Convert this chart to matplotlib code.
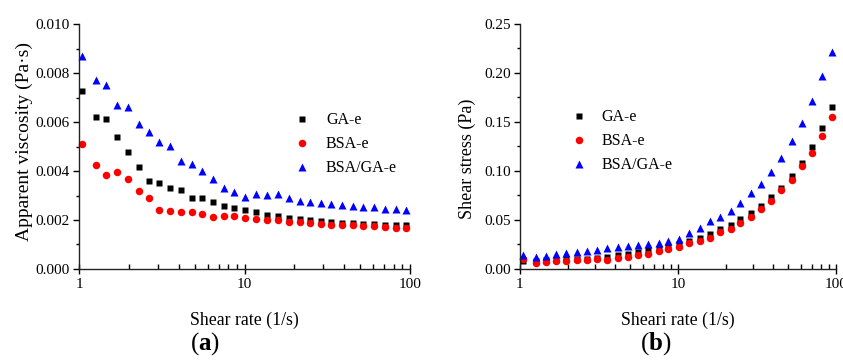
import matplotlib
matplotlib.use("Agg")
import matplotlib.pyplot as plt
from matplotlib.ticker import MultipleLocator, FixedLocator, NullFormatter

plt.rcParams["font.family"] = ["Liberation Serif", "DejaVu Serif"]
plt.rcParams["mathtext.fontset"] = "custom"
plt.rcParams["mathtext.rm"] = "Liberation Serif"
plt.rcParams["mathtext.bf"] = "Liberation Serif:bold"

# shear rate (1/s), same for every series
rate = [1.04, 1.26, 1.46, 1.69, 1.97, 2.29, 2.65, 3.06, 3.57, 4.16, 4.81,
        5.56, 6.48, 7.53, 8.69, 10.1, 11.8, 13.7, 15.9, 18.5, 21.5, 24.8,
        28.8, 33.4, 38.8, 45.1, 52.3, 60.7, 70.5, 81.8, 95.0]

# (a) apparent viscosity (Pa·s)
visc_ga = [0.00729, 0.00620, 0.00611, 0.00539, 0.00478, 0.00418, 0.00359,
           0.00350, 0.00332, 0.00321, 0.00290, 0.00288, 0.00273, 0.00257,
           0.00248, 0.00241, 0.00233, 0.00222, 0.00218, 0.00210, 0.00204,
           0.00200, 0.00195, 0.00190, 0.00189, 0.00186, 0.00185, 0.00182,
           0.00181, 0.00180, 0.00180]
visc_bsa = [0.00510, 0.00426, 0.00386, 0.00397, 0.00366, 0.00320, 0.00291,
            0.00239, 0.00235, 0.00233, 0.00233, 0.00226, 0.00211, 0.00218,
            0.00215, 0.00210, 0.00204, 0.00200, 0.00199, 0.00190, 0.00190,
            0.00189, 0.00182, 0.00180, 0.00178, 0.00178, 0.00174, 0.00174,
            0.00170, 0.00167, 0.00166]
visc_mix = [0.00871, 0.00773, 0.00752, 0.00671, 0.00661, 0.00592, 0.00558,
            0.00520, 0.00501, 0.00441, 0.00427, 0.00399, 0.00366, 0.00331,
            0.00313, 0.00295, 0.00306, 0.00303, 0.00305, 0.00291, 0.00279,
            0.00273, 0.00271, 0.00264, 0.00261, 0.00256, 0.00253, 0.00252,
            0.00246, 0.00244, 0.00239]

# (b) shear stress (Pa)
stress_ga = [0.0076, 0.0078, 0.0089, 0.0091, 0.0094, 0.0096, 0.0095, 0.0107,
             0.0123, 0.0140, 0.0150, 0.0174, 0.0191, 0.0204, 0.0225, 0.0255,
             0.0286, 0.0310, 0.0351, 0.0402, 0.0446, 0.0507, 0.0572, 0.0644,
             0.0729, 0.0828, 0.0947, 0.1083, 0.1243, 0.1437, 0.1650]
stress_bsa = [0.0102, 0.0061, 0.0068, 0.0078, 0.0082, 0.0085, 0.0089, 0.0102,
              0.0092, 0.0109, 0.0123, 0.0140, 0.0153, 0.0180, 0.0201, 0.0221,
              0.0266, 0.0286, 0.0310, 0.0371, 0.0402, 0.0470, 0.0531, 0.0606,
              0.0695, 0.0807, 0.0906, 0.1052, 0.1185, 0.1356, 0.1553]
stress_mix = [0.0140, 0.0119, 0.0129, 0.0146, 0.0157, 0.0167, 0.0184, 0.0191,
              0.0208, 0.0221, 0.0232, 0.0242, 0.0252, 0.0266, 0.0279, 0.0300,
              0.0361, 0.0412, 0.0484, 0.0531, 0.0589, 0.0674, 0.0773, 0.0865,
              0.0990, 0.1130, 0.1300, 0.1490, 0.1710, 0.1965, 0.2217]

labels = ["GA-e", "BSA-e", "BSA/GA-e"]
styles = [dict(marker="s", color="black", ms=5.0),
          dict(marker="o", color="#ff0000", ms=5.4),
          dict(marker="^", color="#0000ff", ms=6.2)]

fig = plt.figure(figsize=(8.43, 3.62), dpi=100)
ax1 = fig.add_axes([0.0937, 0.257, 0.3927, 0.676])
ax2 = fig.add_axes([0.6168, 0.258, 0.3749, 0.676])


def style_axis(ax):
    ax.set_xscale("log")
    ax.set_xlim(1, 100)
    for s in ("top", "right"):
        ax.spines[s].set_visible(False)
    for s in ("left", "bottom"):
        ax.spines[s].set_linewidth(1.0)
        ax.spines[s].set_color("#222222")
    ax.xaxis.set_major_locator(FixedLocator([1, 10, 100]))
    ax.set_xticklabels(["1", "10", "100"])
    ax.xaxis.set_minor_formatter(NullFormatter())
    ax.tick_params(axis="x", which="major", direction="inout", length=7,
                   width=1, labelsize=11, pad=3)
    ax.tick_params(axis="x", which="minor", direction="in", length=3.5, width=1)
    ax.tick_params(axis="y", which="major", direction="out", length=4.5,
                   width=1, labelsize=11, pad=2)
    ax.tick_params(axis="y", which="minor", direction="out", length=2.5, width=1)


for ys, lab, st in zip([visc_ga, visc_bsa, visc_mix], labels, styles):
    ax1.plot(rate, ys, ls="none", mec="none", label=lab, clip_on=False, **st)
for ys, lab, st in zip([stress_ga, stress_bsa, stress_mix], labels, styles):
    ax2.plot(rate, ys, ls="none", mec="none", label=lab, clip_on=False, **st)

style_axis(ax1)
ax1.set_ylim(0, 0.010)
ax1.yaxis.set_major_locator(MultipleLocator(0.002))
ax1.yaxis.set_minor_locator(MultipleLocator(0.001))
ax1.yaxis.set_major_formatter(plt.FuncFormatter(lambda v, p: f"{v:.3f}"))
ax1.set_ylabel("Apparent viscosity (Pa·s)", fontsize=14, va="center")
ax1.yaxis.set_label_coords(-0.166, 0.519)
ax1.set_xlabel("Shear rate (1/s)", fontsize=12.8, labelpad=15)
ax1.legend(loc="center left", bbox_to_anchor=(0.63, 0.51), frameon=False,
           fontsize=11.5, handlelength=1.0, handletextpad=1.0,
           labelspacing=0.5, borderaxespad=0)

style_axis(ax2)
ax2.set_ylim(0, 0.25)
ax2.yaxis.set_major_locator(MultipleLocator(0.05))
ax2.yaxis.set_minor_locator(MultipleLocator(0.025))
ax2.yaxis.set_major_formatter(plt.FuncFormatter(lambda v, p: f"{v:.2f}"))
ax2.set_ylabel("Shear stress (Pa)", fontsize=13, va="center")
ax2.yaxis.set_label_coords(-0.165, 0.448)
ax2.set_xlabel("Sheari rate (1/s)", fontsize=12.8, labelpad=15)
ax2.legend(loc="center left", bbox_to_anchor=(0.14, 0.52), frameon=False,
           fontsize=11.5, handlelength=1.0, handletextpad=0.95,
           labelspacing=0.5, borderaxespad=0)

fig.text(0.243, 0.035, r"($\mathbf{a}$)", ha="center", va="baseline", fontsize=18)
fig.text(0.778, 0.035, r"($\mathbf{b}$)", ha="center", va="baseline", fontsize=18)

fig.savefig("out.png", dpi=100)
